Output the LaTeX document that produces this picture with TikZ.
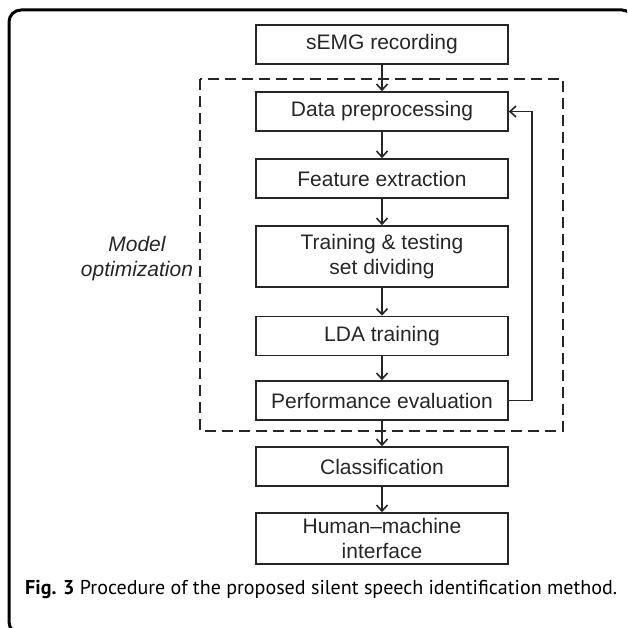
\documentclass[tikz,border=0pt]{standalone}
\usepackage{fontspec}
\setmainfont{Liberation Sans}
\newfontfamily\capfont{PT Sans}
\usetikzlibrary{arrows.meta}
\definecolor{boxgray}{HTML}{262626}
\tikzset{
  flowbox/.style={draw=boxgray, line width=1.6pt, minimum width=252pt, inner sep=0pt,
    align=center, font=\fontsize{21}{25}\selectfont, text=boxgray},
  flowarrow/.style={draw=boxgray, line width=1.6pt, -{Straight Barb[length=6pt,width=11pt,line width=1.6pt]}},
}
\begin{document}
\begin{tikzpicture}[x=1pt,y=-1pt]
\useasboundingbox (0,0) rectangle (627,628);
\begin{scope}
\clip (0,0) rectangle (627,628);
\draw[line width=3pt, rounded corners=12pt] (9,10) rectangle (634,634);
\end{scope}
% dashed group
\draw[boxgray, line width=1.6pt, dash pattern=on 11pt off 6pt] (200,79) rectangle (563,431);
\node[font=\fontsize{21}{25}\selectfont\itshape, align=center, text=boxgray] (mo) at (137,259) {Model\\optimization};
% boxes
\node[flowbox, minimum height=39pt] (s) at (382,44.5) {sEMG recording};
\node[flowbox, minimum height=39pt] (d) at (382,111.5) {Data preprocessing};
\node[flowbox, minimum height=39pt] (f) at (382,178.5) {Feature extraction};
\node[flowbox, minimum height=61pt] (t) at (382,256.5) {Training \& testing\\set dividing};
\node[flowbox, minimum height=39pt] (l) at (382,336) {LDA training};
\node[flowbox, minimum height=39pt] (p) at (382,400.5) {Performance evaluation};
\node[flowbox, minimum height=39pt] (c) at (382,466.5) {Classification};
\node[flowbox, minimum height=51pt] (h) at (382,538.5) {Human--machine\\interface};
% arrows
\draw[flowarrow] (s) -- (d);
\draw[flowarrow] (d) -- (f);
\draw[flowarrow] (f) -- (t);
\draw[flowarrow] (t) -- (l);
\draw[flowarrow] (l) -- (p);
\draw[flowarrow] (p) -- (c);
\draw[flowarrow] (c) -- (h);
\coordinate (fb) at (532,400.5);
\draw[flowarrow] (p.east) -- (fb) |- (d.east);
% caption
\node[anchor=base west, inner sep=0pt] (cap) at (25,594) {\resizebox{592pt}{!}{\capfont\fontsize{17}{20}\selectfont\textbf{Fig. 3} Procedure of the proposed silent speech identification method.}};
\end{tikzpicture}
\end{document}
